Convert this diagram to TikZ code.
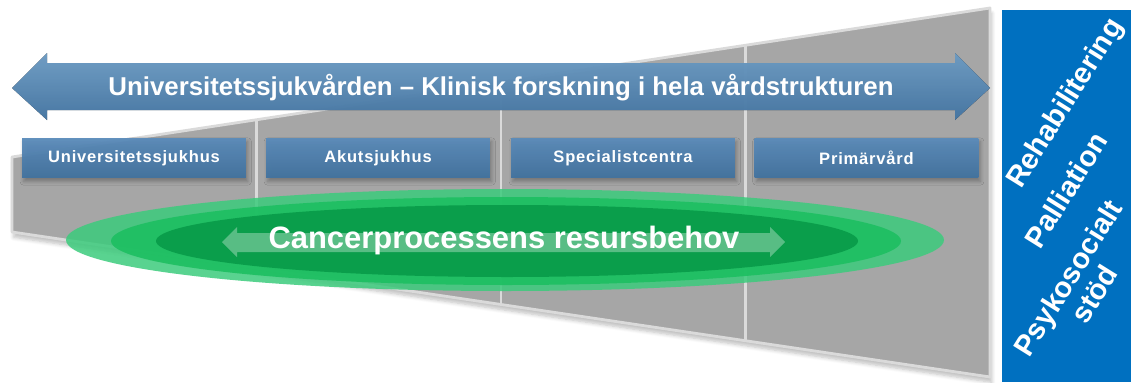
\documentclass[tikz,border=0pt]{standalone}
\usepackage{fontspec}
\setmainfont{Liberation Sans}
\newfontfamily\wardfont[LetterSpace=5]{Liberation Sans}
\usetikzlibrary{calc,shadows.blur}

\definecolor{funnelgray}{HTML}{A6A6A6}
\definecolor{funnelrim}{HTML}{DADADA}
\definecolor{arrowtop}{HTML}{7DB2DF}
\definecolor{arrowbot}{HTML}{4F86B9}
\definecolor{wardtop}{HTML}{5A8BBA}
\definecolor{wardbot}{HTML}{41729F}
\definecolor{sideblue}{HTML}{0070C0}
\definecolor{greenout}{HTML}{3CCB7C}
\definecolor{greenmid}{HTML}{1DBF61}
\definecolor{greenin}{HTML}{0A9E4B}

\begin{document}
\begin{tikzpicture}%
	[x=0.02cm,
	y=-0.02cm,
	funnel/.style={fill=funnelgray, draw=funnelrim, line width=1.6pt, line join=round,
		blur shadow={shadow xshift=1pt, shadow yshift=-3pt, shadow blur steps=6, shadow opacity=25}},
	divider/.style={draw=funnelrim, line width=1.5pt},
	bigarrow/.style={top color=arrowtop, bottom color=arrowbot, fill opacity=0.85},
	smallarrow/.style={fill=white, fill opacity=0.32},
	ward/.style={top color=wardtop, bottom color=wardbot, fill opacity=0.95, text opacity=1,
		minimum width=4.48cm, minimum height=0.8cm, inner sep=0pt,
		text=white, font=\wardfont\bfseries\fontsize{9.4}{11}\selectfont,
		blur shadow={shadow xshift=1pt, shadow yshift=-2pt, shadow blur steps=4, shadow opacity=30}},
	headline/.style={text=white, font=\bfseries\fontsize{14.7}{17}\selectfont, inner sep=0pt},
	needtext/.style={text=white, font=\bfseries\fontsize{17.6}{20}\selectfont, inner sep=0pt},
	sidetext/.style={text=white, rotate=58, align=center, inner sep=0pt,
		font=\bfseries\fontsize{16.5}{17.6}\selectfont}]
%
\useasboundingbox (0,0) rectangle (1131,382);
%
%% Corners of the funnel:
%%
\coordinate (lt) at (12,157);
\coordinate (lb) at (12,232);
\coordinate (rt) at (990,8);
\coordinate (rb) at (990,377);
%%
%%
%% Drawing the funnel and its walls
%%
\draw[funnel] (lt) -- (rt) -- (rb) -- (lb) -- cycle;
\foreach \t in {0.25,0.5,0.75}
	\draw[divider] ($(lt)!\t!(rt)$) -- ($(lb)!\t!(rb)$);
%%
%%
%% Drawing the long arrow at the top
%%
\fill[bigarrow] (12,88) -- (47,53) -- (47,63) -- (955,63) -- (955,53) -- (990,88)
	-- (955,120) -- (955,110) -- (47,110) -- (47,120) -- cycle;
\node[headline] (uvtext) at (501,88) {Universitetssjukvården – Klinisk forskning i hela vårdstrukturen};
%%
%%
%% Drawing the levels of care
%%
\foreach \x/\name/\lbl in {134/unisjh/Universitetssjukhus, 378/akut/Akutsjukhus,
		623/spec/Specialistcentra, 866.5/prim/Primärvård}
	\node[ward] (\name) at (\x,158) {\lbl};
%%
%%
%% Drawing the green needs
%%
\fill[greenout, fill opacity=0.85] (505,240) ellipse [x radius=439, y radius=51];
\fill[greenmid, fill opacity=0.9] (506,241) ellipse [x radius=395, y radius=44];
\fill[greenin] (507,241) ellipse [x radius=351, y radius=36];
\fill[smallarrow] (222,242) -- (237,227) -- (237,233) -- (770,233) -- (770,227) -- (785,242)
	-- (770,257) -- (770,252) -- (237,252) -- (237,257) -- cycle;
\node[needtext] (needs) at (504,241) {Cancerprocessens resursbehov};
%%
%%
%% Drawing the blue side panel
%%
\fill[sideblue] (1002,10) rectangle (1131,382);
\node[sidetext] (rehab) at (1066,104) {Rehabilitering};
\node[sidetext] (pall) at (1066,190) {Palliation};
\node[sidetext] (psyk) at (1081,286) {Psykosocialt\\stöd};
%%
%%
\end{tikzpicture}
\end{document}
